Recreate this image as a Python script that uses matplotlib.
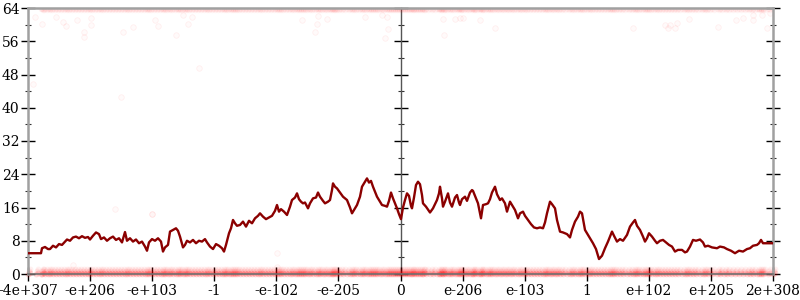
import numpy as np
import matplotlib
matplotlib.use("Agg")
import matplotlib.pyplot as plt
from matplotlib.ticker import MultipleLocator

# sample position (0..745 across the axis) and average error in bits
line_x = [0, 8, 13, 14, 17, 20, 22, 25, 28, 31, 34, 37, 39, 42, 45, 48, 51, 54, 57, 60,
          62, 65, 68, 71, 73, 76, 79, 82, 85, 88, 91, 94, 97, 99, 102, 105, 108, 111, 114, 117,
          119, 121, 124, 127, 130, 133, 135, 137, 140, 142, 145, 148, 150, 152, 155, 157, 159, 162, 165, 168,
          171, 174, 177, 179, 182, 185, 188, 191, 194, 196, 198, 201, 203, 205, 207, 209, 212, 215, 218, 221,
          224, 227, 230, 232, 235, 238, 241, 244, 247, 249, 251, 253, 256, 259, 262, 264, 267, 269, 271, 273,
          275, 277, 280, 282, 285, 288, 290, 292, 295, 297, 300, 302, 304, 305, 307, 309, 312, 315, 319, 322,
          324, 326, 329, 332, 334, 336, 339, 341, 343, 345, 347, 349, 352, 354, 357, 359, 361, 363, 365, 367,
          369, 371, 373, 375, 377, 379, 381, 383, 384, 386, 388, 390, 392, 394, 395, 398, 402, 405, 409, 411,
          412, 414, 415, 417, 420, 422, 424, 427, 429, 431, 432, 434, 437, 439, 442, 444, 445, 447, 450, 452,
          453, 455, 458, 460, 462, 464, 467, 469, 472, 474, 477, 479, 482, 484, 487, 490, 492, 495, 497, 500,
          503, 506, 509, 512, 515, 517, 519, 522, 524, 527, 529, 532, 535, 539, 542, 544, 547, 550, 552, 554,
          557, 560, 562, 565, 568, 571, 574, 577, 580, 582, 584, 586, 589, 592, 595, 599, 602, 605, 607, 609,
          612, 615, 617, 619, 621, 624, 627, 629, 632, 635, 638, 641, 644, 647, 650, 654, 657, 659, 662, 665,
          668, 672, 675, 677, 680, 684, 689, 692, 696, 699, 703, 707, 711, 715, 719, 722, 725, 729, 731, 733,
          735, 740, 745]
line_y = [5.0, 5.0, 5.0, 6.2, 6.5, 6.0, 6.0, 6.8, 6.4, 7.2, 7.0, 7.8, 8.3, 8.0, 8.8, 9.0, 8.6, 9.1, 8.7, 8.9,
          8.3, 9.2, 10.0, 9.6, 8.4, 8.8, 8.0, 8.6, 9.0, 8.2, 8.6, 7.6, 10.1, 8.0, 8.6, 7.8, 8.3, 7.4, 7.8, 6.6,
          5.6, 7.6, 8.4, 8.0, 8.6, 7.8, 5.4, 6.4, 7.0, 10.2, 10.6, 11.0, 10.4, 9.0, 6.4, 7.0, 8.0, 7.6, 8.2, 7.4,
          8.0, 7.8, 8.4, 7.6, 6.6, 6.0, 7.2, 6.8, 6.2, 5.4, 7.0, 9.8, 11.0, 13.0, 12.2, 11.6, 11.8, 12.6, 11.4, 12.8,
          12.2, 13.4, 14.0, 14.6, 13.8, 13.2, 13.6, 14.0, 15.2, 16.6, 15.0, 15.6, 15.0, 14.2, 16.2, 17.8, 18.4, 19.4, 18.0, 17.4,
          17.0, 17.2, 15.8, 17.0, 18.2, 18.4, 19.6, 18.6, 17.6, 17.0, 17.4, 17.8, 20.2, 21.8, 21.0, 20.6, 19.6, 18.6, 17.8, 16.0,
          14.6, 15.4, 16.6, 18.6, 21.0, 21.8, 23.0, 22.0, 22.4, 21.0, 19.8, 18.6, 17.4, 16.6, 16.4, 16.2, 17.6, 19.6, 18.2, 17.0,
          15.8, 14.4, 13.2, 16.0, 17.8, 19.4, 18.8, 16.4, 15.8, 18.4, 21.4, 22.2, 21.6, 19.0, 17.0, 16.2, 14.8, 15.8, 17.8, 19.4,
          21.0, 18.2, 16.2, 17.4, 19.4, 17.2, 16.2, 18.4, 19.0, 17.2, 16.6, 18.0, 18.6, 17.6, 19.6, 20.2, 20.0, 18.8, 17.0, 14.6,
          13.4, 16.6, 16.8, 17.0, 18.0, 19.6, 21.0, 19.2, 17.8, 18.2, 17.0, 15.0, 17.4, 16.6, 15.4, 13.4, 14.6, 15.0, 14.0, 13.0,
          12.0, 11.2, 11.0, 11.2, 11.0, 12.4, 14.6, 17.4, 16.8, 15.8, 13.0, 10.2, 10.0, 9.6, 8.8, 10.6, 12.6, 13.8, 15.0, 14.6,
          10.6, 9.4, 8.6, 7.4, 6.0, 3.6, 4.4, 6.2, 7.8, 9.0, 10.2, 9.2, 7.8, 8.4, 8.0, 9.4, 11.4, 12.4, 13.0, 11.6,
          10.6, 9.0, 7.8, 8.6, 9.8, 9.0, 8.0, 7.4, 8.0, 8.2, 7.6, 7.0, 6.6, 5.4, 5.8, 5.8, 5.2, 5.4, 6.6, 8.2,
          8.0, 8.3, 7.6, 6.6, 6.8, 6.4, 6.2, 6.6, 6.4, 6.0, 5.6, 5.0, 5.6, 5.4, 6.0, 6.2, 6.8, 7.0, 7.4, 8.2,
          7.4, 7.4, 7.4]

# individual sampled points that are neither near 0 nor near 64 bits
pts_x = [7, 14, 28, 35, 38, 49, 56, 56, 63, 63, 95, 105, 127, 130, 148, 155, 160, 164, 171, 5,
         93, 45, 124, 287, 274, 289, 290, 299, 337, 354, 360, 357, 359, 369, 415, 427, 432, 435, 416, 452,
         467, 605, 637, 640, 642, 647, 649, 661, 690, 708, 715, 725, 725, 734, 739, 742, 249, 87, 124, 249]
pts_y = [61.9, 60.2, 61.9, 60.7, 59.7, 61.0, 58.3, 57.1, 61.5, 59.9, 58.3, 59.4, 61.0, 59.7, 57.5, 62.3, 60.2, 61.9, 49.6, 45.7,
         42.7, 2.2, 14.4, 58.3, 61.1, 60.2, 62.1, 61.3, 61.9, 62.3, 58.9, 56.7, 61.8, 15.6, 61.3, 61.3, 61.5, 61.5, 57.5, 61.1,
         59.1, 59.1, 59.9, 59.1, 59.9, 59.1, 60.5, 61.4, 59.5, 61.1, 61.5, 62.3, 61.1, 62.3, 59.1, 62.7, 5.0, 15.6, 14.4, 1.8]

x_labels = ["-4e+307", "-e+206", "-e+103", "-1", "-e-102", "-e-205", "0",
            "e-206", "e-103", "1", "e+102", "e+205", "2e+308"]

plt.rcParams["font.family"] = ["DejaVu Serif"]

fig = plt.figure(figsize=(8, 3), dpi=100)
ax = fig.add_axes([28 / 800, 26 / 300, 745 / 800, 266 / 300])

lx = np.array(line_x, dtype=float)
# the bulk of samples sit at 0 bits or at 64 bits of error
for dx, yy, a in [(0, 0.1, 0.14), (1.5, 0.3, 0.14), (0.7, 0.8, 0.08), (2.2, 1.2, 0.06)]:
    ax.scatter(lx + dx, np.full(lx.size, yy), s=18, color="red", alpha=a,
               linewidths=0, zorder=2, clip_on=False)
top = lx[lx > 12]
for dx, yy, a in [(0, 63.8, 0.05), (1.5, 63.5, 0.04)]:
    ax.scatter(top + dx, np.full(top.size, yy), s=16, color="red", alpha=a,
               linewidths=0, zorder=2)
ax.scatter(pts_x, pts_y, s=16, facecolor=(1, 0, 0, 0.02), edgecolor=(1, 0, 0, 0.06),
           linewidth=0.6, zorder=2)

ax.plot(line_x, line_y, color="#8b0000", linewidth=1.7, zorder=4)

ax.set_xlim(0, 745)
ax.set_ylim(0, 64)

ax.set_xticks(np.linspace(0, 745, 13))
ax.set_xticklabels(x_labels)
ax.yaxis.set_major_locator(MultipleLocator(8))
ax.yaxis.set_minor_locator(MultipleLocator(4))

for side in ["left", "right", "top", "bottom"]:
    ax.spines[side].set_color("#a0a0a0")
    ax.spines[side].set_linewidth(1.8)
ax.spines["bottom"].set_color("#707070")
ax.spines["bottom"].set_linewidth(1.2)

ax.tick_params(axis="y", which="major", direction="inout", length=10, width=1,
               color="black", labelsize=10, right=True, pad=1)
ax.tick_params(axis="y", which="minor", direction="inout", length=5, width=0.8,
               color="#333333", right=True)
ax.tick_params(axis="x", which="major", direction="inout", length=10, width=1,
               color="black", labelsize=10, pad=2)

# the axis through zero in the middle
mid = ax.secondary_yaxis(0.5)
for side in mid.spines:
    mid.spines[side].set_color("#555555")
    mid.spines[side].set_linewidth(1.0)
mid.yaxis.set_major_locator(MultipleLocator(8))
mid.yaxis.set_minor_locator(MultipleLocator(4))
mid.tick_params(which="major", direction="inout", length=10, width=1, color="black",
                labelleft=False, labelright=False)
mid.tick_params(which="minor", direction="inout", length=5, width=0.8, color="#333333")
mid.set_yticklabels([])

fig.savefig("out.png", dpi=100)
